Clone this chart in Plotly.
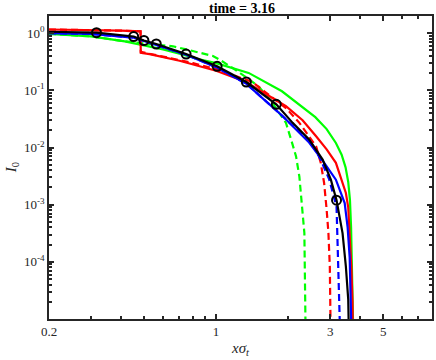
import numpy as np
import plotly.graph_objects as go

# ── Design tokens ────────────────────────────────────────────────────────────
AXIS = '#262626'
FONT = 'Liberation Serif, Times New Roman, serif'
LW = 2.2
DASH = '7px,4px'

# ── Data ─────────────────────────────────────────────────────────────────────
black_x = [0.2, 0.25, 0.316, 0.452, 0.499, 0.562, 0.749, 1.01, 1.338, 1.785,
           2.09, 2.45, 2.79, 3.02, 3.19, 3.38, 3.49, 3.57, 3.62]
black_y = [1.06, 1.05, 1.02, 0.875, 0.745, 0.647, 0.432, 0.264, 0.140, 0.0571,
           0.027, 0.0138, 0.00614, 0.00274, 0.0012, 3.19e-4, 8.3e-5, 2.2e-5, 1e-6]

mark_x = [0.316, 0.452, 0.499, 0.562, 0.749, 1.01, 1.338, 1.785, 3.19]
mark_y = [1.02, 0.875, 0.745, 0.647, 0.432, 0.264, 0.140, 0.0571, 0.0012]

blue_x = [0.2, 0.3, 0.45, 0.5, 0.56, 0.75, 1.0, 1.34, 1.9, 2.45, 2.8, 3.17,
          3.45, 3.55, 3.62, 3.67, 3.70, 3.72]
blue_y = [1.0, 0.97, 0.84, 0.73, 0.63, 0.42, 0.255, 0.13, 0.0352, 0.0122,
          0.0058, 0.00274, 1.07e-3, 4e-4, 1.2e-4, 3e-5, 8e-6, 1e-6]

blue_d_x = [0.2, 0.3, 0.45, 0.5, 0.56, 0.75, 1.0, 1.34, 1.9, 2.53, 2.74, 2.97,
            3.19, 3.22, 3.27, 3.32, 3.34]
blue_d_y = [1.0, 0.97, 0.84, 0.73, 0.63, 0.42, 0.255, 0.13, 0.0352, 0.0112,
            0.0061, 0.0028, 9.3e-4, 3.2e-4, 8.3e-5, 1.3e-5, 1e-6]

red_x = [0.2, 0.3, 0.4, 0.483, 0.484, 0.527, 0.703, 1.0, 1.335, 1.96, 2.3, 2.62,
         2.9, 3.17, 3.36, 3.49, 3.57, 3.63, 3.68, 3.72, 3.75]
red_y = [1.16, 1.14, 1.11, 1.08, 0.455, 0.43, 0.33, 0.22, 0.14, 0.0527, 0.03,
         0.0157, 0.0093, 0.0054, 0.0027, 0.0016, 9e-4, 3e-4, 8e-5, 2e-5, 1e-6]

red_d_x = [0.2, 0.3, 0.4, 0.483, 0.484, 0.6, 0.8, 1.0, 1.42, 1.59, 1.96, 2.23,
           2.62, 2.74, 2.83, 2.90, 2.95, 2.99, 3.02, 3.03]
red_d_y = [1.16, 1.14, 1.11, 1.08, 0.47, 0.39, 0.30, 0.235, 0.14, 0.0964, 0.049,
           0.027, 0.0105, 0.0054, 0.0024, 8.2e-4, 3.2e-4, 8.3e-5, 1.1e-5, 1e-6]

green_x = [0.2, 0.3, 0.415, 0.487, 0.6, 0.703, 0.85, 1.0, 1.368, 1.886, 2.6,
           2.9, 3.17, 3.35, 3.48, 3.57, 3.63, 3.67, 3.71, 3.75, 3.78]
green_y = [0.975, 0.88, 0.72, 0.63, 0.52, 0.44, 0.35, 0.30, 0.202, 0.0964, 0.034,
           0.021, 0.012, 0.0075, 0.0045, 0.0025, 0.0012, 4e-4, 1e-4, 2e-5, 1e-6]

green_d_x = [0.2, 0.3, 0.415, 0.5, 0.56, 0.66, 0.75, 0.97, 1.04, 1.2, 1.41, 1.51,
             1.7, 1.96, 2.06, 2.16, 2.23, 2.26, 2.30, 2.34, 2.36, 2.37, 2.38]
green_d_y = [0.975, 0.88, 0.72, 0.67, 0.63, 0.59, 0.52, 0.40, 0.34, 0.231, 0.144,
             0.115, 0.065, 0.027, 0.0137, 0.0070, 0.0031, 0.0014, 7.2e-4, 3.2e-4,
             8.3e-5, 1.45e-5, 1e-6]

x_major = [0.2, 1, 3, 5]
x_labels = ['0.2', '1', '3', '5']
x_minor = [0.3, 0.4, 0.5, 0.6, 0.7, 0.8, 0.9, 2, 4, 6, 7, 8]

y_major = [1e-4, 1e-3, 1e-2, 1e-1, 1]
y_labels = ['10<sup>-4</sup>', '10<sup>-3</sup>', '10<sup>-2</sup>',
            '10<sup>-1</sup>', '10<sup>0</sup>']
y_minor = [m * 10.0 ** e for e in range(-5, 1) for m in range(2, 10) if m * 10.0 ** e <= 2]

# ── Figure ───────────────────────────────────────────────────────────────────
fig = go.Figure()

curves = [
    (green_x, green_y, '#00ff00', 'solid'),
    (green_d_x, green_d_y, '#00ff00', DASH),
    (red_x, red_y, '#ff0000', 'solid'),
    (red_d_x, red_d_y, '#ff0000', DASH),
    (blue_x, blue_y, '#0000ff', 'solid'),
    (blue_d_x, blue_d_y, '#0000ff', DASH),
    (black_x, black_y, '#000000', 'solid'),
]
for cx, cy, col, dash in curves:
    fig.add_trace(go.Scatter(x=cx, y=cy, mode='lines',
                             line=dict(color=col, width=LW, dash=dash)))

fig.add_trace(go.Scatter(
    x=mark_x, y=mark_y, mode='markers',
    marker=dict(symbol='circle-open', size=9, color='#000000',
                line=dict(width=2, color='#000000')),
))

axis_common = dict(
    type='log', showgrid=False, zeroline=False, showline=True,
    linecolor=AXIS, linewidth=1.5, mirror='allticks',
    ticks='inside', tickcolor=AXIS, tickwidth=1.5,
    tickfont=dict(family=FONT, size=13, color=AXIS),
)

fig.update_xaxes(**axis_common, range=[np.log10(0.2), np.log10(8)],
                 tickmode='array', tickvals=x_major, ticktext=x_labels, ticklen=5,
                 minor=dict(tickmode='array', tickvals=x_minor, ticks='inside',
                            ticklen=3, tickcolor=AXIS, tickwidth=1.5))
fig.update_yaxes(**axis_common, range=[-5, np.log10(2)],
                 tickmode='array', tickvals=y_major, ticktext=y_labels, ticklen=5,
                 minor=dict(tickmode='array', tickvals=y_minor, ticks='inside',
                            ticklen=3, tickcolor=AXIS, tickwidth=1.5))

fig.add_annotation(text='<i>xσ</i><sub><i>t</i></sub>', x=0.5, y=-0.098,
                   xref='paper', yref='paper', showarrow=False,
                   yanchor='middle', font=dict(family=FONT, size=15, color=AXIS))
fig.add_annotation(text='<i>I</i><sub>0</sub>', x=-0.097, y=0.5,
                   xref='paper', yref='paper', showarrow=False, textangle=-90,
                   xanchor='center', font=dict(family=FONT, size=15, color=AXIS))

fig.update_layout(
    width=436, height=360,
    title=dict(text='<b>time = 3.16</b>', x=0.555, xanchor='center',
               y=0.978, yanchor='middle',
               font=dict(family=FONT, size=14, color='#000000')),
    paper_bgcolor='white', plot_bgcolor='white',
    margin=dict(l=49, r=2, t=16, b=41),
    showlegend=False,
)

fig.write_html('out.html', config={'displayModeBar': False},
               post_script="document.body.style.margin='0';")
